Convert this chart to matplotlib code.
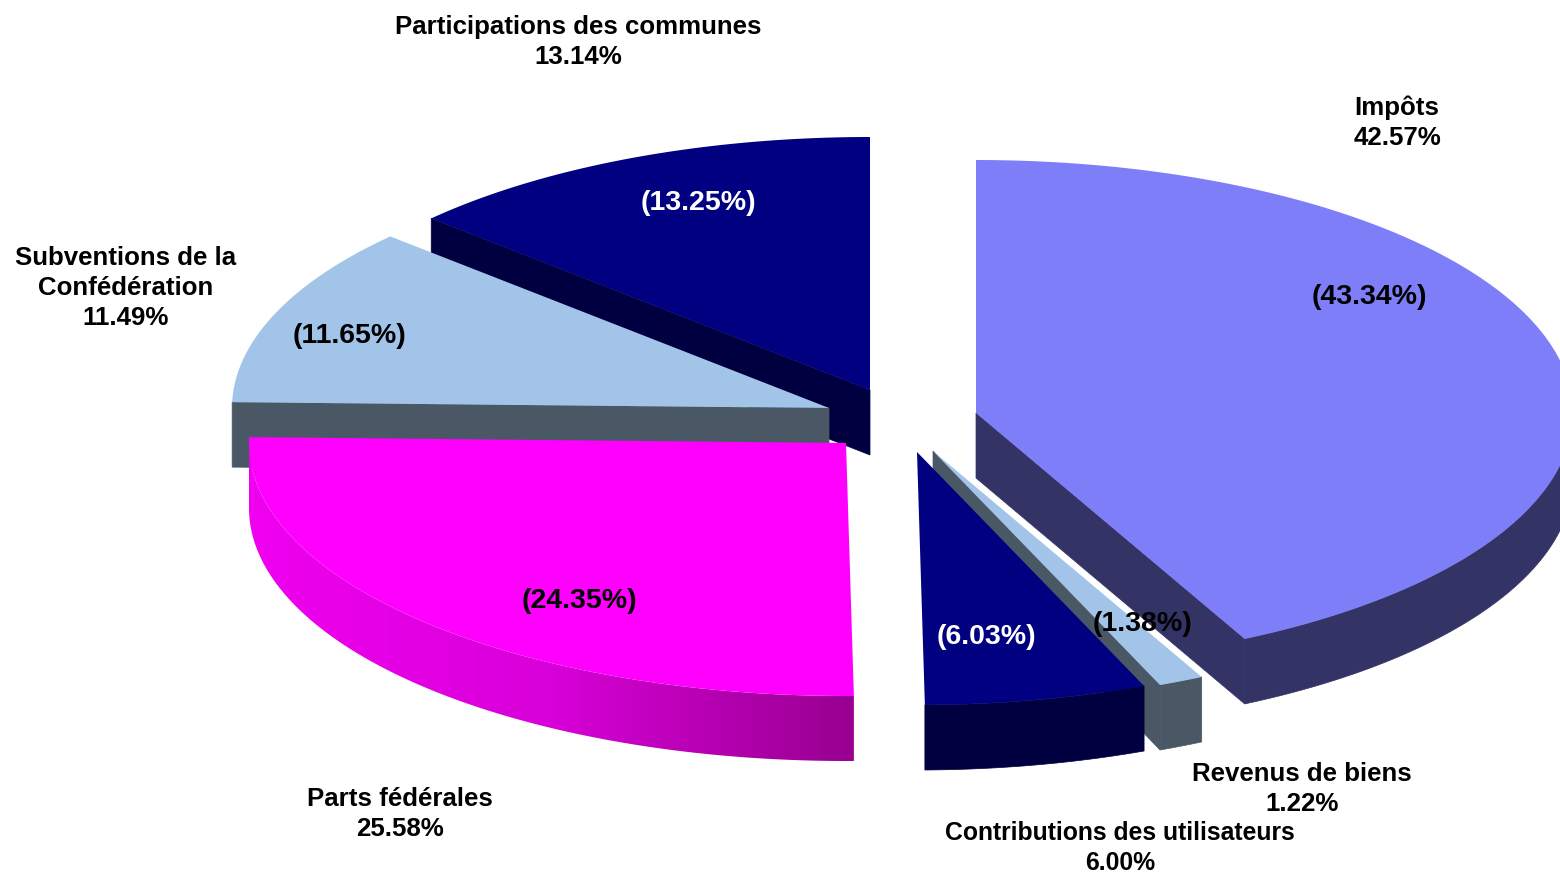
import numpy as np
import matplotlib
matplotlib.use("Agg")
import matplotlib.pyplot as plt
from matplotlib.colors import LinearSegmentedColormap
from matplotlib.patches import Polygon

# ---- data ----
categories = ["Impôts", "Revenus de biens", "Contributions des utilisateurs",
              "Parts fédérales", "Subventions de la\nConfédération",
              "Participations des communes"]
shares = [42.57, 1.22, 6.00, 25.58, 11.49, 13.14]
previous = [43.34, 1.38, 6.03, 24.35, 11.65, 13.25]

# ---- styling / layout (pixels of the 1560x872 canvas) ----
top_colors = ["#7E7EF8", "#A3C4E9", "#000080", "#FF00FF", "#A3C4E9", "#000080"]
side_colors = ["#333366", "#4A5866", "#000040", "#C000C0", "#4A5866", "#000040"]
centers = [(976, 413), (933, 451), (917, 452), (846, 443), (829, 408), (870, 390)]
label_pos = [(1397, 123), (1302, 789), (1120, 848), (400, 814), (126, 288), (578, 42)]
label_size = [18.6, 18.6, 17.8, 18.6, 18.6, 18.6]
prev_pos = [(1369, 297), (1143, 624), (986, 637), (579, 601), (350, 336), (698, 203)]
prev_colors = ["black", "black", "white", "black", "black", "white"]
RX, RY, DEPTH = 597, 253, 65
draw_order = [5, 4, 3, 0, 1, 2]

plt.rcParams["font.family"] = ["Liberation Sans", "DejaVu Sans"]
fig = plt.figure(figsize=(15.6, 8.72), dpi=100)
ax = fig.add_axes([0, 0, 1, 1])
ax.set_xlim(0, 1560)
ax.set_ylim(872, 0)
ax.axis("off")

edges = 90 - 3.6 * np.concatenate([[0], np.cumsum(shares)])
side_cmap = LinearSegmentedColormap.from_list("side", ["#F000F0", "#D800D8", "#980090"])


def rim(c, a0, a1, n=160):
    t = np.radians(np.linspace(a0, a1, n))
    return np.column_stack([c[0] + RX * np.cos(t), c[1] - RY * np.sin(t)])


def faces_viewer(normal_deg):
    return np.sin(np.radians(normal_deg)) < -0.05


for order, i in enumerate(draw_order):
    c = centers[i]
    a0, a1 = edges[i], edges[i + 1]
    arc = rim(c, a0, a1)
    shift = np.array([0, DEPTH])
    tip = np.array(c, dtype=float)
    base = order * 3 + 1
    # flat cut faces that look toward the viewer
    for end, normal in ((arc[0], a0 + 90), (arc[-1], a1 - 90)):
        if faces_viewer(normal):
            ax.add_patch(Polygon([tip, end, end + shift, tip + shift],
                                 fc=side_colors[i], ec=side_colors[i], lw=0.5, zorder=base))
    # outer rim
    front = arc[arc[:, 1] >= c[1] - 1]
    if len(front) > 1:
        outline = np.vstack([front, (front + shift)[::-1]])
        if categories[i] == "Parts fédérales":
            poly = Polygon(outline, fc="none", ec="none", zorder=base + 1)
            ax.add_patch(poly)
            x0, x1 = outline[:, 0].min(), outline[:, 0].max()
            y0, y1 = outline[:, 1].min(), outline[:, 1].max()
            im = ax.imshow(np.linspace(0, 1, 512).reshape(1, -1), cmap=side_cmap,
                           extent=(x0, x1, y1, y0), aspect="auto", zorder=base + 1)
            im.set_clip_path(poly)
            ax.set_xlim(0, 1560)
            ax.set_ylim(872, 0)
        else:
            ax.add_patch(Polygon(outline, fc=side_colors[i], ec=side_colors[i], lw=0.5,
                                 zorder=base + 1))
    # top face
    ax.add_patch(Polygon(np.vstack([tip, arc]), fc=top_colors[i], ec="none", zorder=base + 2))

for i, name in enumerate(categories):
    ax.text(*label_pos[i], f"{name}\n{shares[i]:.2f}%", ha="center", va="center",
            fontsize=label_size[i], fontweight="bold", color="black", linespacing=1.31, zorder=50)
    ax.text(*prev_pos[i], f"({previous[i]:.2f}%)", ha="center", va="center",
            fontsize=20.5, fontweight="bold", color=prev_colors[i], zorder=50)

fig.savefig("out.png", dpi=100, facecolor="white")
